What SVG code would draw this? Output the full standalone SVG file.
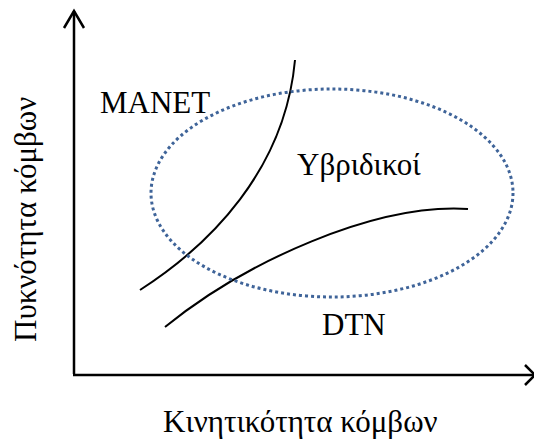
<svg xmlns="http://www.w3.org/2000/svg" width="534" height="441" viewBox="0 0 534 441">
<style>
.ax{stroke:#000;stroke-width:2.5;fill:none;stroke-linecap:butt}
.cv{stroke:#000;stroke-width:2;fill:none}
.el{stroke:#3f6499;stroke-width:3;fill:none;stroke-dasharray:3 3}
.t{font-family:'Liberation Serif', serif;font-size:31px;fill:#000}
</style>
<rect width="534" height="441" fill="#fff"/>
<g id="connectors">
<path class="ax" d="M74,374 L74,11"/>
<path class="ax" d="M64,28 L74,11 L84,28"/>
<path class="ax" d="M73,375 L534,375"/>
<path class="ax" d="M525,365 L535,375 L525,385"/>
</g>
<g id="curve-manet"><path class="cv" d="M140,290 C210,245 285,170 295,60"/></g>
<g id="curve-dtn"><path class="cv" d="M165,327 C245,262 375,203 468,209"/></g>
<g id="hybrid"><ellipse class="el" cx="332" cy="193" rx="181" ry="104"/></g>
<g id="label-manet"><text class="t" x="100" y="113">MANET</text></g>
<g id="label-hybrid"><text class="t" x="297" y="175">Υβριδικοί</text></g>
<g id="label-dtn"><text class="t" x="322" y="335">DTN</text></g>
<g id="label-x"><text class="t" x="163" y="432">Κινητικότητα κόμβων</text></g>
<g id="label-y"><text class="t" transform="translate(36,342) rotate(-90)">Πυκνότητα κόμβων</text></g>
</svg>
